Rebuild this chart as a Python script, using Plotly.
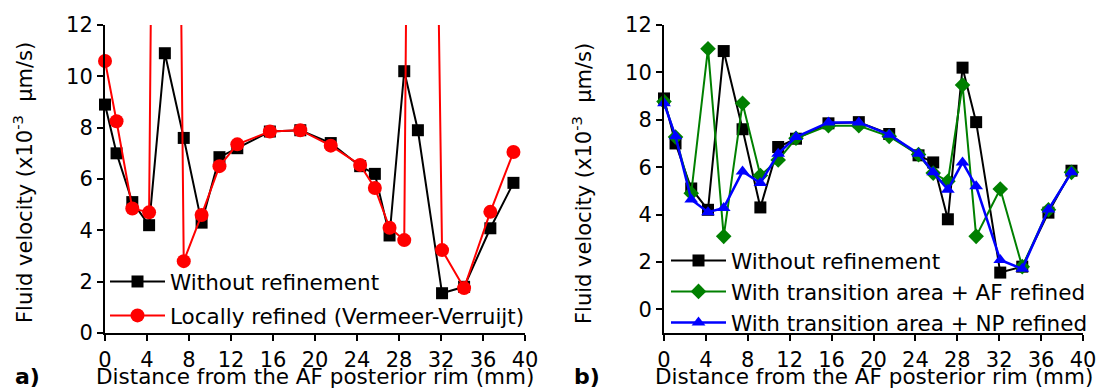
import plotly.graph_objects as go

# ---- data ----
x_pos = [0, 1.1, 2.6, 4.2, 5.7, 7.5, 9.2, 10.9, 12.6, 15.7, 18.6, 21.5, 24.3, 25.7, 27.1, 28.5, 29.8, 32.1, 34.2, 36.7, 38.9]
without_ref = [8.9, 7.0, 5.1, 4.2, 10.9, 7.6, 4.3, 6.85, 7.2, 7.85, 7.9, 7.4, 6.5, 6.2, 3.8, 10.2, 7.9, 1.55, 1.8, 4.08, 5.85]
locally_ref = [10.6, 8.25, 4.85, 4.7, 75, 2.8, 4.6, 6.5, 7.35, 7.85, 7.9, 7.3, 6.55, 5.65, 4.1, 3.62, 70, 3.23, 1.75, 4.72, 7.05]
af_refined = [8.77, 7.27, 4.9, 11.0, 3.08, 8.7, 5.65, 6.3, 7.22, 7.75, 7.75, 7.3, 6.53, 5.75, 5.4, 9.47, 3.08, 5.08, 1.8, 4.2, 5.78]
np_refined = [8.7, 7.3, 4.63, 4.1, 4.28, 5.82, 5.33, 6.57, 7.27, 7.89, 7.89, 7.37, 6.57, 5.78, 5.05, 6.2, 5.19, 2.08, 1.71, 4.21, 5.78]

x_ticks = [0, 4, 8, 12, 16, 20, 24, 28, 32, 36, 40]
y_ticks = [0, 2, 4, 6, 8, 10, 12]

name_without = "Without refinement"
name_local = "Locally refined (Vermeer-Verruijt)"
name_af = "With transition area + AF refined"
name_np = "With transition area + NP refined"
x_title = "Distance from the AF posterior rim (mm)"
y_title = "Fluid velocity (x10<sup>-3</sup>\u00a0 \u03bcm/s)"

W, H = 1099, 391
FONT = "DejaVu Sans, Liberation Sans, Arial, sans-serif"
FS = 21.5

fig = go.Figure()

def add(xs, ys, name, color, symbol, size, xa, ya, legend, width=2):
    fig.add_trace(go.Scatter(
        x=xs, y=ys, name=name, mode="lines+markers",
        line=dict(color=color, width=width),
        marker=dict(color=color, symbol=symbol, size=size),
        xaxis=xa, yaxis=ya, legend=legend, legendgroup=name + xa,
        cliponaxis=False,
    ))

add(x_pos, without_ref, name_without, "black", "square", 12, "x", "y", "legend")
add(x_pos, locally_ref, name_local, "#FF0000", "circle", 14, "x", "y", "legend")
add(x_pos, without_ref, name_without, "black", "square", 12, "x2", "y2", "legend2")
add(x_pos, af_refined, name_af, "#008000", "diamond", 12, "x2", "y2", "legend2")
add(x_pos, np_refined, name_np, "#0000FF", "triangle-up", 12, "x2", "y2", "legend2", width=2.5)

ydom = [1 - 333 / H, 1 - 25 / H]
axis_common = dict(
    showline=True, linecolor="black", linewidth=2, ticks="outside", ticklen=6,
    tickwidth=2, tickcolor="black", showgrid=False, zeroline=False,
    tickfont=dict(family=FONT, size=21, color="black"), mirror=False,
    automargin=False,
)

fig.update_layout(
    width=W, height=H,
    margin=dict(l=0, r=0, t=0, b=0, autoexpand=False),
    paper_bgcolor="white", plot_bgcolor="white",
    font=dict(family=FONT, size=FS, color="black"),
    xaxis=dict(domain=[105 / W, 525 / W], range=[0, 40], tickvals=x_ticks, anchor="y",
               ticklabelstandoff=1, **axis_common),
    yaxis=dict(domain=ydom, range=[0, 12], tickvals=y_ticks, anchor="x", **axis_common),
    xaxis2=dict(domain=[664 / W, 1083 / W], range=[0, 40], tickvals=x_ticks, anchor="y2",
                ticklabelstandoff=1, **axis_common),
    yaxis2=dict(domain=ydom, range=[-1, 12], tickvals=y_ticks, anchor="x2", **axis_common),
    legend=dict(x=105 / W, y=1 - 261 / H, xanchor="left", yanchor="top",
                bgcolor="rgba(0,0,0,0)", font=dict(family=FONT, size=FS),
                itemwidth=55, tracegroupgap=3, traceorder="grouped"),
    legend2=dict(x=666 / W, y=1 - 240 / H, xanchor="left", yanchor="top",
                 bgcolor="rgba(0,0,0,0)", font=dict(family=FONT, size=FS),
                 itemwidth=55, tracegroupgap=0, traceorder="grouped"),
    showlegend=True,
)

ann = []
for cx in (315, 874):
    ann.append(dict(text=x_title, x=cx / W, y=0, xref="paper", yref="paper",
                    xanchor="center", yanchor="bottom", showarrow=False,
                    font=dict(family=FONT, size=FS)))
for cx in (23, 582):
    ann.append(dict(text=y_title, x=cx / W, y=1 - 183 / H, xref="paper", yref="paper", textangle=-90,
                    xanchor="center", yanchor="middle", showarrow=False,
                    font=dict(family=FONT, size=21)))
for lab, cx in (("a)", 27), ("b)", 587)):
    ann.append(dict(text="<b>" + lab + "</b>", x=cx / W, y=0, xref="paper", yref="paper",
                    xanchor="center", yanchor="bottom", showarrow=False,
                    font=dict(family=FONT, size=22)))
fig.update_layout(annotations=ann)

fig.write_html("out.html")
